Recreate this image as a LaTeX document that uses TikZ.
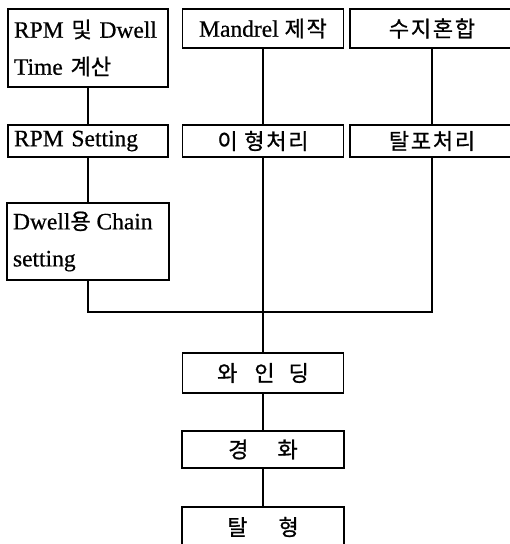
\documentclass[tikz,border=0pt]{standalone}
\usepackage{fontspec}
\setmainfont{Liberation Serif}[FakeBold=0.6]
\newfontfamily\kr{Noto Sans CJK KR}[LetterSpace=8,FakeBold=0.9]
\newfontfamily\krn{Noto Sans CJK KR}[FakeBold=0.9]
\begin{document}
\begin{tikzpicture}[x=1pt,y=-1pt,
  box/.style={draw,line width=1.1pt,inner sep=0pt,
    font=\fontsize{23.5}{37}\selectfont},
  lbox/.style={box,align=left,text width=#1},
  kbox/.style={box,font=\fontsize{22}{26}\kr},
  link/.style={line width=1.1pt}]
\useasboundingbox (0,0) rectangle (510,544);
\clip (0,0) rectangle (510,544);
% left column
\node[lbox=148pt,minimum width=160pt,minimum height=78pt] (b1) at (88,48)
  {RPM {\fontsize{22}{26}\krn 및} Dwell\\Time {\fontsize{22}{26}\krn 계산}};
\node[lbox=148pt,minimum width=160pt,minimum height=32pt] (rpm) at (88,141)
  {RPM Setting};
\node[lbox=150pt,minimum width=162pt,minimum height=77pt] (dw) at (88,241.5)
  {Dwell{\fontsize{22}{26}\krn 용}\hspace{-2pt} Chain\\setting};
% middle column
\node[box,minimum width=161pt,minimum height=39pt] (man) at (263,28.5)
  {Mandrel {\fontsize{22}{26}\kr 제작}};
\node[kbox,minimum width=161pt,minimum height=32pt] (ih) at (263,141)
  {이\hspace{0.3em}형처리};
% right column
\node[kbox,minimum width=164pt,minimum height=39pt] (sj) at (432,28.5)
  {수지혼합};
\node[kbox,minimum width=164pt,minimum height=32pt] (tp) at (432,141)
  {탈포처리};
% lower chain
\node[kbox,minimum width=161pt,minimum height=40pt] (wd) at (263,373)
  {와\hspace{17pt}인\hspace{14pt}딩};
\node[kbox,minimum width=162pt,minimum height=37pt] (gh) at (263,449.5)
  {경\hspace{29pt}화};
\node[kbox,minimum width=162pt,minimum height=40pt] (th) at (263,527)
  {탈\hspace{31pt}형};
\coordinate (j) at (263,312);
% connectors
\draw[link] (b1.south) -- (rpm.north);
\draw[link] (rpm.south) -- (dw.north);
\draw[link] (man.south) -- (ih.north);
\draw[link] (sj.south) -- (tp.north);
\draw[link] (dw.south) -- (dw.south |- j) -- (tp.south |- j) -- (tp.south);
\draw[link] (ih.south) -- (wd.north);
\draw[link] (wd.south) -- (gh.north);
\draw[link] (gh.south) -- (th.north);
\end{tikzpicture}
\end{document}
